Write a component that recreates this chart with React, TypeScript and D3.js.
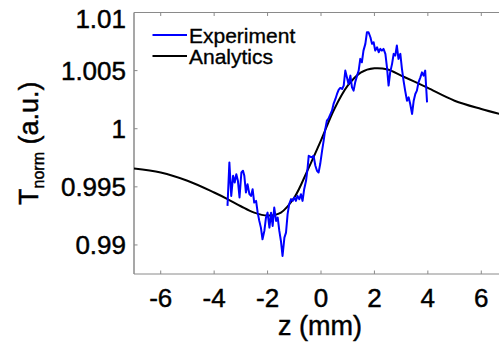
import { useRef, useEffect } from 'react'
import * as d3 from 'd3'

const WIDTH = 499
const HEIGHT = 346
const MARGIN = { top: 12.5, left: 134, bottom: 72 }
const PLOT_W = 374 // axis runs past the right edge of the picture
const X_DOMAIN: [number, number] = [-7, 7]
const Y_DOMAIN: [number, number] = [0.9875, 1.01]

const X_TICKS = [-6, -4, -2, 0, 2, 4, 6]
const Y_TICKS = [0.99, 0.995, 1, 1.005, 1.01]
const Y_TICK_LABELS = ['0.99', '0.995', '1', '1.005', '1.01']

const EXP_Z = [
  -3.5, -3.43, -3.36, -3.29, -3.23, -3.17, -3.11, -3.05, -2.98, -2.92,
  -2.87, -2.81, -2.75, -2.68, -2.62, -2.56, -2.5, -2.43, -2.37, -2.31,
  -2.25, -2.19, -2.12, -2.06, -2.0, -1.93, -1.87, -1.81, -1.75, -1.68,
  -1.62, -1.56, -1.5, -1.44, -1.37, -1.31, -1.25, -1.19, -1.12, -1.06,
  -1.0, -0.94, -0.88, -0.81, -0.75, -0.69, -0.63, -0.56, -0.5, -0.46,
  -0.4, -0.34, -0.28, -0.21, -0.15, -0.09, -0.03, 0.04, 0.1, 0.16,
  0.22, 0.28, 0.41, 0.47, 0.54, 0.6, 0.66, 0.72, 0.79, 0.85,
  0.91, 0.97, 1.03, 1.1, 1.16, 1.22, 1.28, 1.35, 1.41, 1.47,
  1.53, 1.59, 1.66, 1.72, 1.78, 1.85, 1.91, 1.97, 2.03, 2.1,
  2.16, 2.22, 2.28, 2.34, 2.41, 2.47, 2.53, 2.59, 2.66, 2.72,
  2.78, 2.84, 2.9, 2.97, 3.03, 3.09, 3.15, 3.22, 3.28, 3.34,
  3.41, 3.47, 3.53, 3.59, 3.65, 3.72, 3.78, 3.84, 3.9, 3.97,
]
const EXP_T = [
  0.99336, 0.9971, 0.99422, 0.99595, 0.99537, 0.99609, 0.99552, 0.99408, 0.99623, 0.99638,
  0.99595, 0.99451, 0.99523, 0.99437, 0.99422, 0.9948, 0.99365, 0.99379, 0.99278, 0.99207,
  0.99149, 0.99049, 0.99121, 0.99235, 0.99278, 0.99149, 0.99278, 0.99164, 0.99322, 0.99207,
  0.99235, 0.99121, 0.99034, 0.98905, 0.99063, 0.99106, 0.99265, 0.99351, 0.99394, 0.99379,
  0.99408, 0.99379, 0.99422, 0.99394, 0.99437, 0.99379, 0.9948, 0.99552, 0.99666, 0.99767,
  0.99759, 0.99753, 0.99767, 0.99681, 0.99638, 0.99623, 0.99696, 0.9981, 0.99897, 0.99997,
  1.00069, 1.00086, 1.00155, 1.00213, 1.00256, 1.00299, 1.00334, 1.00351, 1.00342, 1.00371,
  1.005, 1.00442, 1.00385, 1.00457, 1.00356, 1.00328, 1.00399, 1.00457, 1.005, 1.00601,
  1.00572, 1.00672, 1.0073, 1.0083, 1.0083, 1.00787, 1.0073, 1.00744, 1.00672, 1.00701,
  1.00658, 1.00687, 1.00672, 1.00687, 1.00644, 1.00528, 1.00371, 1.00485, 1.00558, 1.00644,
  1.00629, 1.00716, 1.00601, 1.00644, 1.00515, 1.00414, 1.00328, 1.00241, 1.0027, 1.00213,
  1.00127, 1.00241, 1.00299, 1.00328, 1.00399, 1.00442, 1.00485, 1.00457, 1.005, 1.00227,
]

// analytical fit, sampled off the figure
const FIT_Z = [-7, -6, -5, -4, -3.5, -3, -2.5, -2, -1.5, -1, -0.5, 0, 0.5, 1, 1.5, 2, 2.5, 3, 3.5, 4, 5, 6, 7]
const FIT_T = [
  0.99658, 0.99623, 0.99552, 0.99451, 0.99395, 0.99333, 0.99278, 0.99253, 0.99279, 0.99408,
  0.99644, 0.999, 1.0017, 1.0037, 1.00485, 1.0052, 1.00509, 1.00457, 1.00405, 1.00351,
  1.00241, 1.0017, 1.0011,
]

const FONT = '"Liberation Sans", Arial, Helvetica, sans-serif'
const AXIS_COLOR = '#8a8a8a'

export default function App() {
  const svgRef = useRef<SVGSVGElement>(null)

  useEffect(() => {
    if (!svgRef.current) return
    const ih = HEIGHT - MARGIN.top - MARGIN.bottom
    const x = d3.scaleLinear().domain(X_DOMAIN).range([0, PLOT_W])
    const y = d3.scaleLinear().domain(Y_DOMAIN).range([ih, 0])

    const svg = d3.select(svgRef.current)
    svg.selectAll('*').remove()

    svg.append('defs').append('clipPath').attr('id', 'plot-clip')
      .append('rect').attr('width', PLOT_W).attr('height', ih)

    const g = svg.append('g').attr('transform', `translate(${MARGIN.left},${MARGIN.top})`)

    // text a bit heavier, like the original render
    const heavy = (sel: d3.Selection<SVGTextElement, unknown, null, undefined>) =>
      sel.attr('font-family', FONT).attr('fill', '#000')
        .attr('stroke', '#000').attr('stroke-width', 0.45)

    // frame
    g.append('line').attr('x1', 0).attr('x2', PLOT_W).attr('y1', 0).attr('y2', 0)
      .attr('stroke', AXIS_COLOR).attr('stroke-width', 1)
    g.append('line').attr('x1', 0).attr('x2', PLOT_W).attr('y1', ih).attr('y2', ih)
      .attr('stroke', AXIS_COLOR).attr('stroke-width', 1)
    g.append('line').attr('x1', 0).attr('x2', 0).attr('y1', 0).attr('y2', ih)
      .attr('stroke', AXIS_COLOR).attr('stroke-width', 1.5)

    // ticks (inward, mirrored top/bottom)
    X_TICKS.forEach(t => {
      g.append('line').attr('x1', x(t)).attr('x2', x(t)).attr('y1', ih).attr('y2', ih - 3.5)
        .attr('stroke', AXIS_COLOR)
      g.append('line').attr('x1', x(t)).attr('x2', x(t)).attr('y1', 0).attr('y2', 3.5)
        .attr('stroke', AXIS_COLOR)
      g.append('text').attr('x', x(t)).attr('y', ih + 32.5)
        .attr('text-anchor', 'middle').attr('font-size', 26)
        .call(heavy).text(t)
    })
    Y_TICKS.forEach((t, i) => {
      g.append('line').attr('x1', 0).attr('x2', 3.5).attr('y1', y(t)).attr('y2', y(t))
        .attr('stroke', AXIS_COLOR)
      // the top label sits a little lower so it stays inside the figure
      const shift = i === Y_TICKS.length - 1 ? 6 : 0
      g.append('text').attr('x', -8).attr('y', y(t) + shift).attr('dy', '0.35em')
        .attr('text-anchor', 'end').attr('font-size', 26)
        .call(heavy).text(Y_TICK_LABELS[i])
    })

    const plot = g.append('g').attr('clip-path', 'url(#plot-clip)')

    const fitLine = d3.line<number>()
      .x((_, i) => x(FIT_Z[i])).y(d => y(d))
      .curve(d3.curveCatmullRom)
    plot.append('path').datum(FIT_T).attr('d', fitLine)
      .attr('fill', 'none').attr('stroke', '#000').attr('stroke-width', 2)

    const expLine = d3.line<number>()
      .x((_, i) => x(EXP_Z[i])).y(d => y(d))
    plot.append('path').datum(EXP_T).attr('d', expLine)
      .attr('fill', 'none').attr('stroke', '#0000ff').attr('stroke-width', 2)
      .attr('stroke-linejoin', 'round')

    // legend
    const legend = [
      { label: 'Experiment', color: '#0000ff' },
      { label: 'Analytics', color: '#000' },
    ]
    legend.forEach((d, i) => {
      const ly = 22.5 + i * 21
      g.append('line').attr('x1', 18.5).attr('x2', 53).attr('y1', ly).attr('y2', ly)
        .attr('stroke', d.color).attr('stroke-width', 2)
      g.append('text').attr('x', 55).attr('y', ly).attr('dy', '0.36em')
        .attr('font-size', 21).call(heavy).attr('stroke-width', 0.35).text(d.label)
    })

    // axis labels
    svg.append('text').attr('x', 320).attr('y', 334.5)
      .attr('text-anchor', 'middle').attr('font-size', 27)
      .call(heavy).text('z (mm)')

    const yl = svg.append('text')
      .attr('transform', `translate(38,${MARGIN.top + ih / 2}) rotate(-90)`)
      .attr('text-anchor', 'middle').attr('font-size', 27)
      .call(heavy)
    yl.append('tspan').text('T')
    yl.append('tspan').attr('font-size', 16).attr('dy', 6).text('norm')
    yl.append('tspan').attr('dy', -6).text(' (a.u.)')
  }, [])

  return (
    <svg
      ref={svgRef}
      width={WIDTH}
      height={HEIGHT}
      style={{ position: 'absolute', left: 0, top: 0, background: '#fff' }}
    />
  )
}
